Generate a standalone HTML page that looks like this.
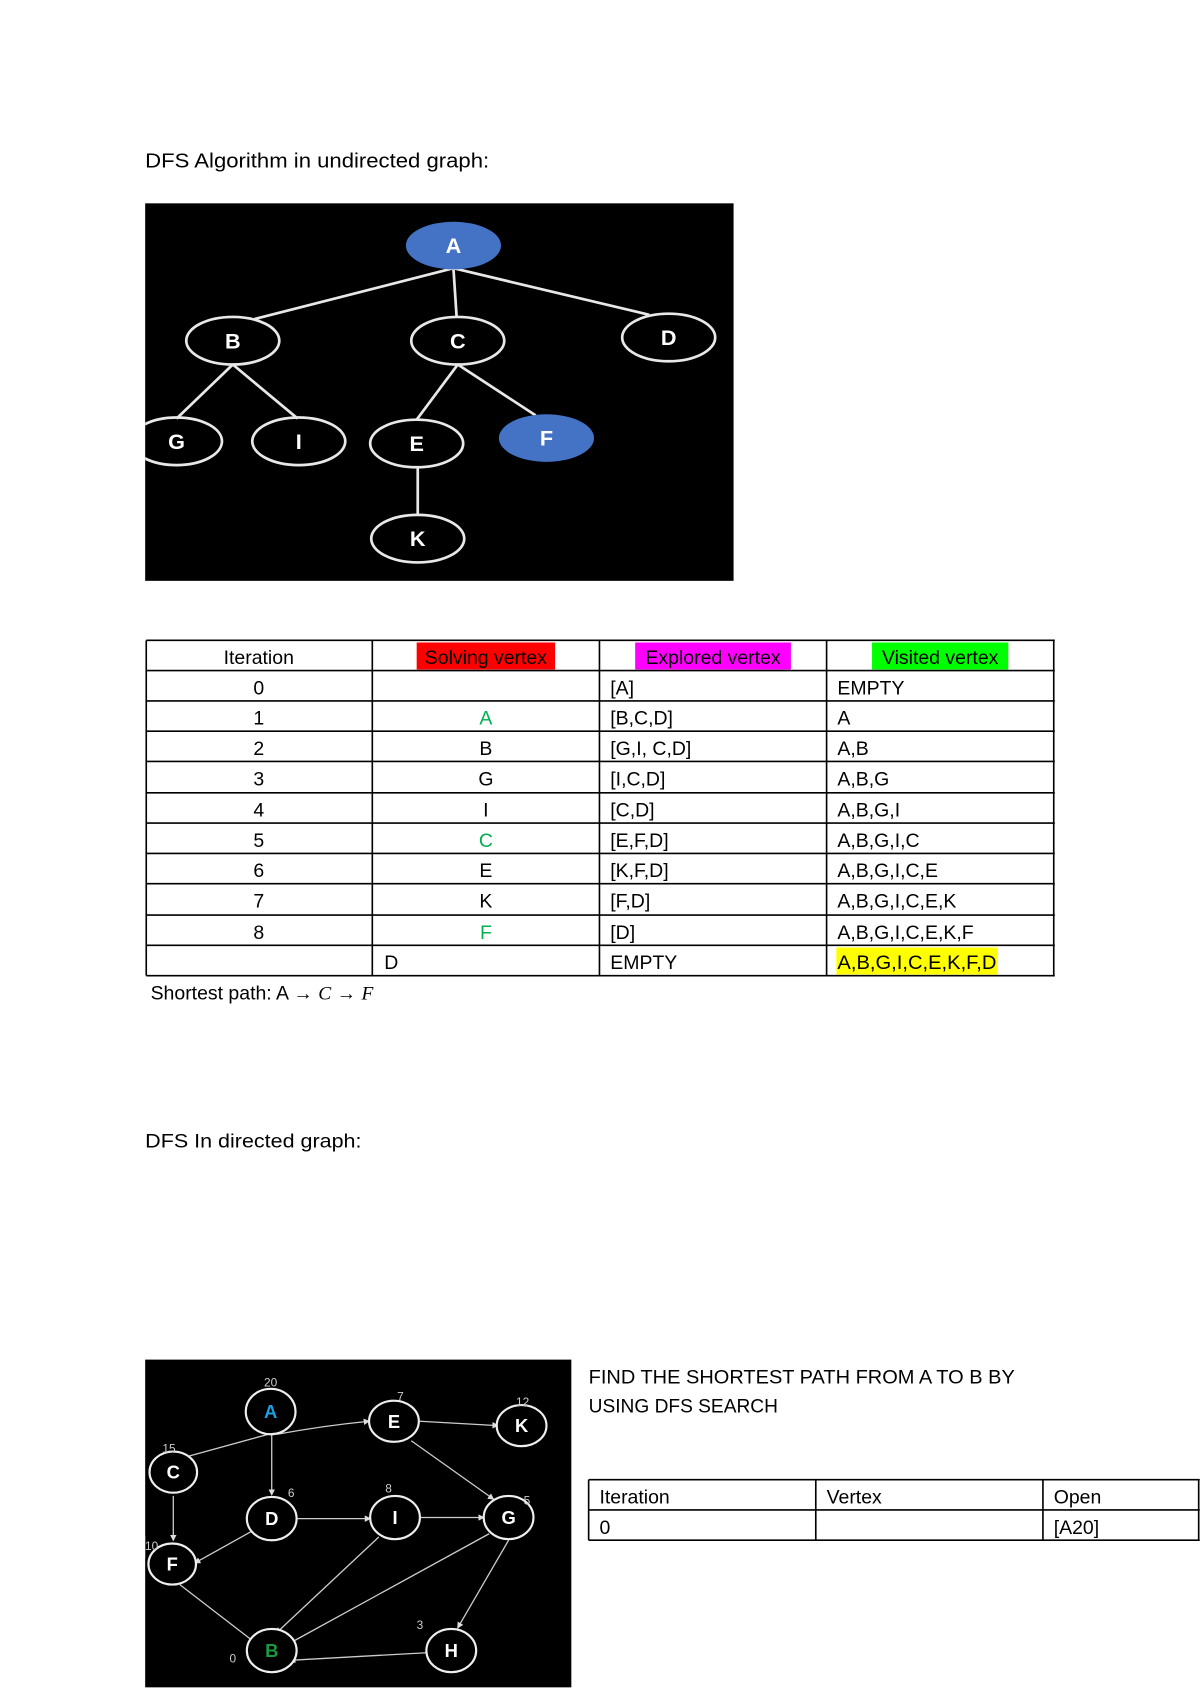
<!DOCTYPE html>
<html><head><meta charset="utf-8"><style>html,body{margin:0;padding:0;background:#fff}svg{display:block}</style></head>
<body>
<svg width="1200" height="1696" viewBox="0 0 1109 1568" xmlns="http://www.w3.org/2000/svg" font-family="Liberation Sans, sans-serif">
<defs>
<clipPath id="c1"><rect x="134" y="188" width="544" height="349"/></clipPath>
<marker id="ar" markerWidth="6" markerHeight="6" refX="5" refY="3" orient="auto" markerUnits="userSpaceOnUse"><path d="M0,0L6,3L0,6z" fill="#ddd"/></marker>
</defs>
<rect width="1109" height="1568" fill="#fff"/>
<text x="134" y="155" font-size="19" textLength="318" lengthAdjust="spacingAndGlyphs">DFS Algorithm in undirected graph:</text>

<!-- graph 1 -->
<rect x="134" y="188" width="544" height="349" fill="#000"/>
<g clip-path="url(#c1)">
<g stroke="#e8e8e8" stroke-width="2.5" fill="none">
<line x1="419" y1="248" x2="235" y2="295"/>
<line x1="419" y1="248" x2="422" y2="294"/>
<line x1="419" y1="248" x2="600" y2="291"/>
<line x1="215" y1="337" x2="163" y2="387"/>
<line x1="215" y1="337" x2="275" y2="387"/>
<line x1="423" y1="337" x2="385" y2="388"/>
<line x1="423" y1="337" x2="495" y2="384"/>
<line x1="386" y1="431" x2="386" y2="476"/>
<ellipse cx="215" cy="315" rx="43" ry="22"/>
<ellipse cx="423" cy="315" rx="43" ry="22"/>
<ellipse cx="618" cy="312" rx="43" ry="22"/>
<ellipse cx="163" cy="408" rx="42" ry="22"/>
<ellipse cx="276" cy="408" rx="43" ry="22"/>
<ellipse cx="385" cy="410" rx="43" ry="22"/>
<ellipse cx="386" cy="498" rx="43" ry="22"/>
</g>
<ellipse cx="419" cy="227" rx="44" ry="22" fill="#4472c4"/>
<ellipse cx="505" cy="405" rx="44" ry="22" fill="#4472c4"/>
<g fill="#fff" font-size="20" font-weight="bold" text-anchor="middle">
<text x="419" y="234">A</text><text x="215" y="322">B</text><text x="423" y="322">C</text><text x="618" y="319">D</text>
<text x="163" y="415">G</text><text x="276" y="415">I</text><text x="385" y="417">E</text><text x="505" y="412">F</text><text x="386" y="505">K</text>
</g>
</g>

<!-- table 1 -->
<rect x="385" y="594" width="128" height="25" fill="#ff0000"/>
<rect x="587" y="594" width="144" height="25" fill="#ff00ff"/>
<rect x="806" y="594" width="126" height="25" fill="#00ff00"/>
<rect x="773" y="876" width="149" height="25" fill="#ffff00"/>
<g stroke="#000" stroke-width="1.5">
<line x1="135" y1="592" x2="975" y2="592"/>
<line x1="135" y1="620" x2="975" y2="620"/>
<line x1="135" y1="648" x2="975" y2="648"/>
<line x1="135" y1="676" x2="975" y2="676"/>
<line x1="135" y1="704" x2="975" y2="704"/>
<line x1="135" y1="733" x2="975" y2="733"/>
<line x1="135" y1="761" x2="975" y2="761"/>
<line x1="135" y1="789" x2="975" y2="789"/>
<line x1="135" y1="817" x2="975" y2="817"/>
<line x1="135" y1="846" x2="975" y2="846"/>
<line x1="135" y1="874" x2="975" y2="874"/>
<line x1="135" y1="902" x2="975" y2="902"/>
<line x1="135" y1="592" x2="135" y2="902"/>
<line x1="344" y1="592" x2="344" y2="902"/>
<line x1="554" y1="592" x2="554" y2="902"/>
<line x1="764" y1="592" x2="764" y2="902"/>
<line x1="974" y1="592" x2="974" y2="902"/>
</g>
<g font-size="18">
<g text-anchor="middle">
<text x="239" y="614">Iteration</text>
<text x="449" y="614">Solving vertex</text>
<text x="659" y="614">Explored vertex</text>
<text x="869" y="614">Visited vertex</text>
<text x="239" y="642">0</text><text x="239" y="670">1</text><text x="239" y="698">2</text><text x="239" y="726">3</text>
<text x="239" y="755">4</text><text x="239" y="783">5</text><text x="239" y="811">6</text><text x="239" y="839">7</text><text x="239" y="868">8</text>
<text x="449" y="670" fill="#00b050">A</text><text x="449" y="698">B</text><text x="449" y="726">G</text><text x="449" y="755">I</text>
<text x="449" y="783" fill="#00b050">C</text><text x="449" y="811">E</text><text x="449" y="839">K</text><text x="449" y="868" fill="#00b050">F</text>
</g>
<text x="355" y="896">D</text>
<text x="564" y="642">[A]</text><text x="564" y="670">[B,C,D]</text><text x="564" y="698">[G,I, C,D]</text><text x="564" y="726">[I,C,D]</text>
<text x="564" y="755">[C,D]</text><text x="564" y="783">[E,F,D]</text><text x="564" y="811">[K,F,D]</text><text x="564" y="839">[F,D]</text>
<text x="564" y="868">[D]</text><text x="564" y="896">EMPTY</text>
<text x="774" y="642">EMPTY</text><text x="774" y="670">A</text><text x="774" y="698">A,B</text><text x="774" y="726">A,B,G</text>
<text x="774" y="755">A,B,G,I</text><text x="774" y="783">A,B,G,I,C</text><text x="774" y="811">A,B,G,I,C,E</text><text x="774" y="839">A,B,G,I,C,E,K</text>
<text x="774" y="868">A,B,G,I,C,E,K,F</text><text x="774" y="896" textLength="147" lengthAdjust="spacingAndGlyphs">A,B,G,I,C,E,K,F,D</text>
<text x="139" y="924">Shortest path: A → <tspan font-style="italic" font-family="Liberation Serif, serif">C</tspan> → <tspan font-style="italic" font-family="Liberation Serif, serif">F</tspan></text>
</g>

<text x="134" y="1061" font-size="18" textLength="200" lengthAdjust="spacingAndGlyphs">DFS In directed graph:</text>

<!-- graph 2 -->
<rect x="134" y="1257" width="394" height="303" fill="#000"/>
<g stroke="#ccc" stroke-width="1.2" fill="none" marker-end="url(#ar)">
<path d="M256,1326 Q300,1318 341,1314"/>
<line x1="388" y1="1314" x2="460" y2="1318"/>
<line x1="248" y1="1326" x2="168" y2="1348"/>
<line x1="251" y1="1326" x2="251" y2="1382"/>
<line x1="160" y1="1383" x2="160" y2="1424"/>
<line x1="232" y1="1416" x2="180" y2="1445"/>
<line x1="275" y1="1404" x2="342" y2="1404"/>
<line x1="389" y1="1403" x2="447" y2="1403"/>
<line x1="380" y1="1332" x2="456" y2="1386"/>
<line x1="350" y1="1421" x2="255" y2="1510"/>
<line x1="452" y1="1418" x2="268" y2="1519"/>
<line x1="470" y1="1424" x2="423" y2="1505"/>
<line x1="394" y1="1528" x2="268" y2="1535"/>
<line x1="166" y1="1465" x2="236" y2="1519"/>
</g>
<g stroke="#eee" stroke-width="2" fill="#000">
<ellipse cx="250" cy="1305" rx="23" ry="21"/>
<ellipse cx="364" cy="1314" rx="23" ry="19"/>
<ellipse cx="482" cy="1318" rx="23" ry="19"/>
<ellipse cx="160" cy="1361" rx="22" ry="19"/>
<ellipse cx="251" cy="1404" rx="23" ry="20"/>
<ellipse cx="365" cy="1403" rx="23" ry="20"/>
<ellipse cx="470" cy="1403" rx="23" ry="20"/>
<ellipse cx="159" cy="1446" rx="22" ry="19"/>
<ellipse cx="251" cy="1526" rx="23" ry="20"/>
<ellipse cx="417" cy="1526" rx="23" ry="20"/>
</g>
<g fill="#fff" font-size="17" font-weight="bold" text-anchor="middle">
<text x="250" y="1311" fill="#1aa0e0">A</text><text x="364" y="1320">E</text><text x="482" y="1324">K</text><text x="160" y="1367">C</text>
<text x="251" y="1410">D</text><text x="365" y="1409">I</text><text x="470" y="1409">G</text><text x="159" y="1452">F</text>
<text x="251" y="1532" fill="#1a9a40">B</text><text x="417" y="1532">H</text>
</g>
<g fill="#ccc" font-size="11" text-anchor="middle">
<text x="250" y="1282">20</text><text x="370" y="1295">7</text><text x="483" y="1300">12</text><text x="156" y="1343">15</text>
<text x="269" y="1384">6</text><text x="359" y="1380">8</text><text x="487" y="1391">5</text><text x="140" y="1433">10</text>
<text x="388" y="1506">3</text><text x="215" y="1537">0</text>
</g>
<rect x="128" y="1420" width="6" height="20" fill="#fff"/>

<!-- right side -->
<g font-size="18">
<text x="544" y="1279" textLength="394" lengthAdjust="spacingAndGlyphs">FIND THE SHORTEST PATH FROM A TO B BY</text>
<text x="544" y="1306" textLength="175" lengthAdjust="spacingAndGlyphs">USING DFS SEARCH</text>
</g>
<g stroke="#000" stroke-width="1.5">
<line x1="544" y1="1368" x2="1109" y2="1368"/>
<line x1="544" y1="1396" x2="1109" y2="1396"/>
<line x1="544" y1="1424" x2="1109" y2="1424"/>
<line x1="544" y1="1368" x2="544" y2="1424"/>
<line x1="754" y1="1368" x2="754" y2="1424"/>
<line x1="964" y1="1368" x2="964" y2="1424"/>
<line x1="1108" y1="1368" x2="1108" y2="1424"/>
</g>
<g font-size="18">
<text x="554" y="1390">Iteration</text><text x="764" y="1390">Vertex</text><text x="974" y="1390">Open</text>
<text x="554" y="1418">0</text><text x="974" y="1418">[A20]</text>
</g>
</svg>
</body></html>
